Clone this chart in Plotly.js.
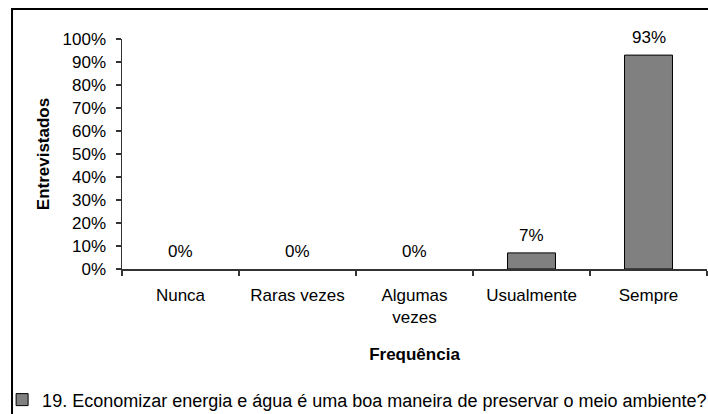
<!DOCTYPE html>
<html>
<head>
<meta charset="utf-8">
<script src="https://cdn.plot.ly/plotly-3.0.1.min.js"></script>
<style>html,body{margin:0;padding:0;background:#fff;}#chart{width:708px;height:414px;}</style>
</head>
<body>
<div id="chart"></div>
<script>
const categories = ["Nunca", "Raras vezes", "Algumas vezes", "Usualmente", "Sempre"];
const tickLabels = ["Nunca", "Raras vezes", "Algumas<br>vezes", "Usualmente", "Sempre"];
const values = [0, 0, 0, 0.07, 0.93];
const valueLabels = ["0%", "0%", "0%", "7%", "93%"];
const seriesName = "19. Economizar energia e água é uma boa maneira de preservar o meio ambiente?";
const yTicks = [0, 0.1, 0.2, 0.3, 0.4, 0.5, 0.6, 0.7, 0.8, 0.9, 1.0];

const FONT = "Arial, 'Liberation Sans', sans-serif";

// zero-height bars are invisible in the original (no outline on the baseline)
const trace = {
  type: "bar",
  x: categories,
  y: values.map(v => (v === 0 ? null : v)),
  name: seriesName,
  marker: {color: "#808080", line: {color: "#000000", width: 1}},
  showlegend: true,
  hoverinfo: "none"
};

const annotations = categories.map((c, i) => ({
  x: c, y: values[i], xref: "x", yref: "y",
  text: valueLabels[i], showarrow: false,
  yanchor: "bottom", yshift: 6,
  font: {family: FONT, size: 17, color: "#000"}
}));

const layout = {
  width: 708, height: 414,
  margin: {l: 122, r: 1, t: 39, b: 145, pad: 0, autoexpand: false},
  paper_bgcolor: "#fff", plot_bgcolor: "#fff",
  font: {family: FONT, size: 17, color: "#000"},
  bargap: 0.59,
  xaxis: {
    type: "category",
    tickvals: categories, ticktext: tickLabels,
    showline: true, linecolor: "#333", linewidth: 1.5, layer: "above traces",
    ticks: "outside", tickson: "boundaries", ticklen: 5, tickcolor: "#333", tickwidth: 1.5,
    showgrid: false, zeroline: false,
    tickfont: {family: FONT, size: 17, color: "#000"},
    ticklabelstandoff: 10,
    title: {text: "<b>Frequência</b>", font: {family: FONT, size: 17, color: "#000"}, standoff: 22},
    fixedrange: true
  },
  yaxis: {
    range: [0, 1], tickvals: yTicks, tickformat: ".0%",
    showline: true, linecolor: "#333", linewidth: 1.5,
    ticks: "outside", ticklen: 5, tickcolor: "#333", tickwidth: 1.5,
    showgrid: false, zeroline: false,
    tickfont: {family: FONT, size: 17, color: "#000"},
    ticklabelstandoff: 6,
    title: {text: "<b>Entrevistados</b>", font: {family: FONT, size: 17, color: "#000"}, standoff: 8},
    fixedrange: true
  },
  legend: {
    orientation: "h", xref: "container", yref: "container",
    x: 0.003, xanchor: "left", y: 0.034, yanchor: "middle",
    font: {family: FONT, size: 18, color: "#000"},
    bgcolor: "rgba(0,0,0,0)", itemclick: false
  },
  annotations: annotations,
  shapes: [{
    type: "rect", xref: "paper", yref: "paper",
    x0: -0.188, x1: 1.2, y0: -1.2, y1: 1.130,
    line: {color: "#000", width: 2}, fillcolor: "rgba(0,0,0,0)", layer: "below"
  }]
};

Plotly.newPlot("chart", [trace], layout, {staticPlot: true, displayModeBar: false});
</script>
</body>
</html>
